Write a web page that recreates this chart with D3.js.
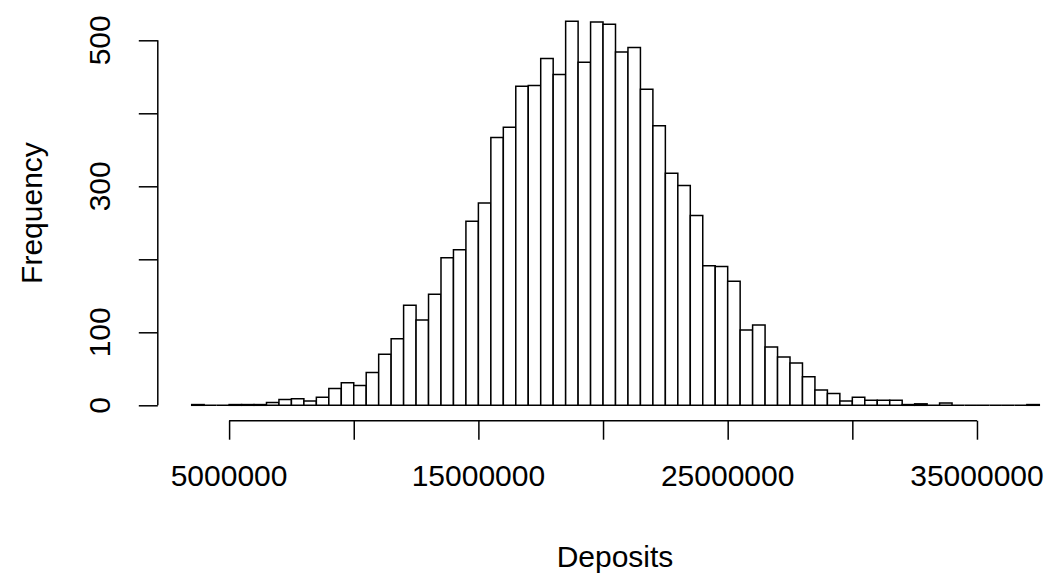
<!DOCTYPE html>
<html>
<head>
<meta charset="utf-8">
<script src="https://cdn.jsdelivr.net/npm/d3@7"></script>
<style>
  html, body { margin: 0; padding: 0; background: #fff; }
  svg { display: block; }
  text { font-family: "Liberation Sans", Arial, Helvetica, sans-serif; fill: #000; }
</style>
</head>
<body>
<svg id="chart" width="1051" height="573"></svg>
<script>
// Histogram of deposits: bins of 500,000 starting at 3,500,000
const binStart = 3500000;
const binWidth = 500000;
const counts = [
  1, 0, 0, 1, 1, 1, 4, 8, 9, 6,
  11, 23, 31, 27, 45, 70, 91, 137, 117, 152,
  202, 213, 252, 277, 367, 381, 437, 438, 475, 453,
  526, 470, 525, 522, 484, 490, 433, 383, 318, 301,
  260, 191, 190, 170, 103, 110, 80, 66, 58, 39,
  21, 16, 6, 11, 7, 7, 7, 1, 2, 0,
  3, 0, 0, 0, 0, 0, 0, 1
];
const xTicks = [5000000, 10000000, 15000000, 20000000, 25000000, 30000000, 35000000];
const xTickLabels = [5000000, 15000000, 25000000, 35000000];
const yTicks = [0, 100, 200, 300, 400, 500];
const yTickLabels = [0, 100, 300, 500];
const xTitle = "Deposits";
const yTitle = "Frequency";

const bins = counts.map((c, i) => ({
  x0: binStart + i * binWidth,
  x1: binStart + (i + 1) * binWidth,
  count: c
}));

const svg = d3.select("#chart");
const FONT = 30;

// plot region
const x = d3.scaleLinear().domain([2140000, 38860000]).range([157.8, 1073.2]);
const y = d3.scaleLinear().domain([0, 500]).range([405.3, 40.3]);
const axisY = 420.7;   // bottom edge of plot region
const axisX = 157.8;   // left edge of plot region

// bars as closed outlines, so empty bins still show their base
svg.append("g")
  .selectAll("path")
  .data(bins)
  .join("path")
  .attr("d", d => {
    const a = x(d.x0), b = x(d.x1), y0 = y(0), y1 = y(d.count);
    return `M${a},${y0}V${y1}H${b}V${y0}Z`;
  })
  .attr("fill", "#fff")
  .attr("stroke", "#000")
  .attr("stroke-width", 1.5)
  .attr("stroke-linejoin", "miter");

// x axis: line spans first to last tick
const xAxisScale = x.copy()
  .domain([xTicks[0], xTicks[xTicks.length - 1]])
  .range([x(xTicks[0]), x(xTicks[xTicks.length - 1])]);
const gx = svg.append("g")
  .attr("transform", `translate(0,${axisY})`)
  .call(d3.axisBottom(xAxisScale)
    .tickValues(xTicks)
    .tickSize(19)
    .tickSizeOuter(0)
    .tickFormat(""));
gx.selectAll("path, line").attr("stroke", "#000").attr("stroke-width", 1.5);
gx.select(".domain").attr("d", `M${x(xTicks[0])},0H${x(xTicks[xTicks.length - 1])}`);

svg.append("g")
  .selectAll("text")
  .data(xTickLabels)
  .join("text")
  .attr("x", d => x(d))
  .attr("y", 486)
  .attr("text-anchor", "middle")
  .attr("font-size", FONT)
  .text(d => d3.format("d")(d));

// y axis
const yAxisScale = y.copy()
  .domain([yTicks[0], yTicks[yTicks.length - 1]])
  .range([y(yTicks[0]), y(yTicks[yTicks.length - 1])]);
const gy = svg.append("g")
  .attr("transform", `translate(${axisX},0)`)
  .call(d3.axisLeft(yAxisScale)
    .tickValues(yTicks)
    .tickSize(19)
    .tickSizeOuter(0)
    .tickFormat(""));
gy.selectAll("path, line").attr("stroke", "#000").attr("stroke-width", 1.5);
gy.select(".domain").attr("d", `M0,${y(yTicks[0])}V${y(yTicks[yTicks.length - 1])}`);

svg.append("g")
  .selectAll("text")
  .data(yTickLabels)
  .join("text")
  .attr("transform", d => `translate(110,${y(d)}) rotate(-90)`)
  .attr("text-anchor", "middle")
  .attr("font-size", FONT)
  .text(d => d);

// axis titles
svg.append("text")
  .attr("x", 615)
  .attr("y", 567)
  .attr("text-anchor", "middle")
  .attr("font-size", FONT)
  .text(xTitle);

svg.append("text")
  .attr("transform", `translate(42,213) rotate(-90)`)
  .attr("text-anchor", "middle")
  .attr("font-size", FONT)
  .text(yTitle);
</script>
</body>
</html>
